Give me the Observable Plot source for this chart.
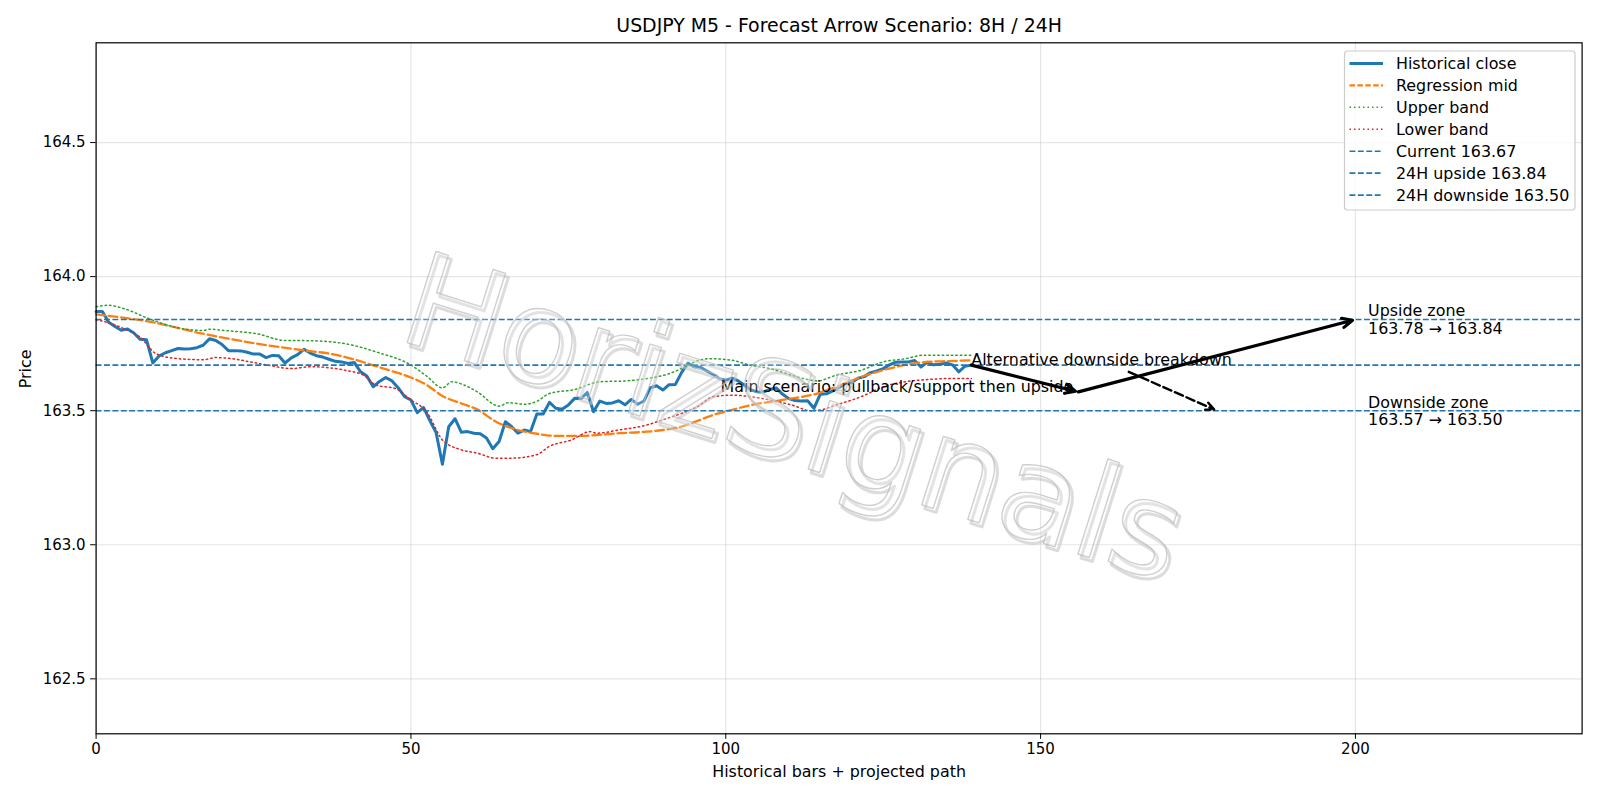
<!DOCTYPE html>
<html>
<head>
<meta charset="utf-8">
<script src="https://cdn.jsdelivr.net/npm/d3@7"></script>
<script src="https://cdn.jsdelivr.net/npm/@observablehq/plot@0.6"></script>
<style>
  html, body { margin: 0; padding: 0; background: #ffffff; }
  #chart { width: 1600px; height: 800px; }
</style>
</head>
<body>
<div id="chart"></div>
<script>
// USDJPY M5 closes, one value per bar (bars 0..139)
const closeValues = [
  163.870, 163.870, 163.830, 163.814, 163.800, 163.805, 163.790, 163.766, 163.765, 163.678,
  163.704, 163.716, 163.724, 163.732, 163.730, 163.731, 163.735, 163.744, 163.768, 163.762,
  163.747, 163.724, 163.724, 163.723, 163.718, 163.711, 163.711, 163.698, 163.706, 163.705,
  163.678, 163.697, 163.709, 163.729, 163.715, 163.705, 163.700, 163.692, 163.684, 163.682,
  163.676, 163.680, 163.645, 163.629, 163.589, 163.609, 163.624, 163.611, 163.585, 163.552,
  163.540, 163.493, 163.512, 163.463, 163.418, 163.300, 163.440, 163.470, 163.420, 163.422,
  163.416, 163.414, 163.398, 163.358, 163.385, 163.459, 163.440, 163.416, 163.428, 163.422,
  163.488, 163.488, 163.531, 163.509, 163.505, 163.521, 163.546, 163.545, 163.568, 163.496,
  163.536, 163.527, 163.529, 163.537, 163.522, 163.542, 163.524, 163.536, 163.585, 163.593,
  163.577, 163.597, 163.598, 163.643, 163.678, 163.664, 163.662, 163.648, 163.635, 163.619,
  163.614, 163.621, 163.611, 163.595, 163.577, 163.570, 163.570, 163.579, 163.585, 163.562,
  163.545, 163.538, 163.536, 163.537, 163.509, 163.561, 163.563, 163.574, 163.587, 163.601,
  163.605, 163.621, 163.627, 163.642, 163.648, 163.657, 163.671, 163.681, 163.682, 163.682,
  163.687, 163.663, 163.681, 163.671, 163.673, 163.678, 163.671, 163.645, 163.666, 163.670
];
const closeBars = closeValues.map((_, i) => i);

// Regression mid line (bar position, price)
const midBars = [0, 8, 17, 25.5, 34, 37, 40.5, 43.5, 46.5, 50, 52.5, 55, 58, 60.5, 63.5, 67, 70, 73, 77, 80,
  83, 86.5, 90, 93, 95.5, 98, 101, 104, 109, 114.5, 117.5, 121.5, 125, 129, 132, 135.5, 139];
const midValues = [163.859, 163.834, 163.787, 163.750, 163.722, 163.713, 163.694, 163.673, 163.651, 163.624,
  163.596, 163.555, 163.527, 163.505, 163.459, 163.428, 163.414, 163.406, 163.406, 163.410,
  163.416, 163.420, 163.428, 163.441, 163.462, 163.484, 163.503, 163.521, 163.540, 163.564,
  163.589, 163.626, 163.651, 163.673, 163.682, 163.685, 163.688];

// Upper band
const upperBars = [0, 2, 4.5, 8.5, 13, 17, 18, 20.5, 25.5, 30, 34, 39.5, 44.5, 50, 52.5, 55, 56.5, 58.5, 60.5, 64,
  65.5, 68, 70, 72, 76, 80, 84, 87.5, 91, 93.5, 95.5, 97.5, 101, 104, 107, 110.5, 113.5, 114.5, 117.5, 121.5,
  125, 128.5, 131.5, 135.5, 139];
const upperValues = [163.888, 163.893, 163.880, 163.842, 163.809, 163.799, 163.804, 163.799, 163.787, 163.762,
  163.761, 163.750, 163.719, 163.670, 163.629, 163.585, 163.608, 163.595, 163.571, 163.517,
  163.530, 163.524, 163.535, 163.564, 163.579, 163.608, 163.611, 163.620, 163.638, 163.663,
  163.686, 163.694, 163.688, 163.669, 163.657, 163.632, 163.614, 163.611, 163.632, 163.651,
  163.682, 163.694, 163.707, 163.707, 163.707];

// Lower band
const lowerBars = [0, 2.5, 4.5, 7, 9.5, 13, 17, 19, 21.5, 24.5, 27.5, 31, 34, 39.5, 42.5, 44.5, 47.5, 50, 52.5, 55,
  58, 60.5, 63.5, 66, 70, 72, 75.5, 78.5, 79.5, 83, 87.5, 90, 93, 95.5, 98, 101, 104, 107, 110.5, 113.5,
  115.5, 117.5, 121.5, 125, 128.5, 132, 135.5, 139];
const lowerValues = [163.839, 163.824, 163.805, 163.774, 163.713, 163.694, 163.690, 163.698, 163.694, 163.682,
  163.669, 163.657, 163.664, 163.651, 163.632, 163.595, 163.583, 163.540, 163.496, 163.391,
  163.354, 163.342, 163.323, 163.323, 163.336, 163.367, 163.391, 163.422, 163.416, 163.428,
  163.447, 163.466, 163.490, 163.515, 163.552, 163.558, 163.552, 163.540, 163.521, 163.500,
  163.505, 163.521, 163.552, 163.589, 163.608, 163.616, 163.620, 163.620];

// Reference levels
const levelNames = ["Current", "24H upside", "24H downside"];
const levelValues = [163.67, 163.84, 163.50];

// Projected main path: pullback to support, then upside target
const mainPathBars = [139, 156, 200];
const mainPathValues = [163.67, 163.57, 163.84];

// Alternative breakdown arrow (start point sits at the edge of its label)
const altBars = [164, 178];
const altValues = [163.645, 163.50];

// Zone labels
const zoneNames = ["Upside zone", "Downside zone"];
const zoneFrom = [163.78, 163.57];
const zoneTo = [163.84, 163.50];
const zoneBar = 202;

// Axis ticks
const xTicks = [0, 50, 100, 150, 200];
const yTicks = [162.5, 163.0, 163.5, 164.0, 164.5];

const titleText = "USDJPY M5 - Forecast Arrow Scenario: 8H / 24H";
const xLabel = "Historical bars + projected path";
const yLabel = "Price";
const watermarkText = "HorizSignals";

const C = { blue: "#1f77b4", orange: "#ff7f0e", green: "#2ca02c", red: "#d62728" };
const FONT = "'DejaVu Sans', 'Liberation Sans', sans-serif";

const mainSegments = mainPathBars.slice(1).map((b, k) => ({
  x1: mainPathBars[k], y1: mainPathValues[k], x2: b, y2: mainPathValues[k + 1]
}));
const altSegment = [{ x1: altBars[0], y1: altValues[0], x2: altBars[1], y2: altValues[1] }];
const zoneLabels = zoneNames.map((n, k) => ({
  y: zoneTo[k], text: `${n}\n${zoneFrom[k].toFixed(2)} \u2192 ${zoneTo[k].toFixed(2)}`
}));

const chart = Plot.plot({
  width: 1600,
  height: 800,
  marginLeft: 95.6,
  marginRight: 18.4,
  marginTop: 42.3,
  marginBottom: 66.7,
  x: { domain: [0, 236] },
  y: { domain: [162.295, 164.872] },
  style: { fontFamily: FONT, fontSize: "15px", background: "#ffffff", color: "#000000", overflow: "visible" },
  marks: [
    Plot.gridX(xTicks, { stroke: "#b0b0b0", strokeOpacity: 0.32, strokeWidth: 1.2 }),
    Plot.gridY(yTicks, { stroke: "#b0b0b0", strokeOpacity: 0.32, strokeWidth: 1.2 }),

    Plot.line(closeValues, { x: closeBars, y: closeValues, stroke: C.blue, strokeWidth: 3, strokeLinejoin: "round" }),
    Plot.line(midValues, { x: midBars, y: midValues, stroke: C.orange, strokeWidth: 2.3, strokeDasharray: "8.8,3.8", curve: "monotone-x" }),
    Plot.line(upperValues, { x: upperBars, y: upperValues, stroke: C.green, strokeWidth: 1.5, strokeDasharray: "1.5,3", curve: "monotone-x" }),
    Plot.line(lowerValues, { x: lowerBars, y: lowerValues, stroke: C.red, strokeWidth: 1.5, strokeDasharray: "1.5,3", curve: "monotone-x" }),

    Plot.ruleY(levelValues, { stroke: C.blue, strokeWidth: 1.6, strokeDasharray: "5.9,2.5" }),

    Plot.arrow(mainSegments, { x1: "x1", y1: "y1", x2: "x2", y2: "y2", stroke: "#000", strokeWidth: 3.2, headLength: 5.2, headAngle: 50, insetEnd: 3 }),
    Plot.arrow(altSegment, { x1: "x1", y1: "y1", x2: "x2", y2: "y2", stroke: "#000", strokeWidth: 2.4, strokeDasharray: "8.8,3.8", headLength: 5.6, headAngle: 50, insetEnd: 3 }),

    Plot.text(["Main scenario: pullback/support then upside"], {
      x: mainPathBars[1], y: mainPathValues[1], text: d => d, textAnchor: "end", lineAnchor: "bottom", dx: -5, fontSize: 15.9, fill: "#000"
    }),
    Plot.text(["Alternative downside breakdown"], {
      x: mainPathBars[0], y: mainPathValues[0], text: d => d, textAnchor: "start", lineAnchor: "bottom", fontSize: 15.9, fill: "#000"
    }),
    Plot.text(zoneLabels, {
      x: zoneBar, y: "y", text: "text", textAnchor: "start", lineAnchor: "middle", lineHeight: 1.1, fontSize: 15.9, fill: "#000"
    }),

    Plot.frame({ stroke: "#000", strokeWidth: 1.2 }),
    Plot.axisX({ ticks: xTicks, tickSize: 5.5, tickPadding: 4, fontSize: 15, label: null }),
    Plot.axisY({ ticks: yTicks, tickSize: 5.5, tickPadding: 5, fontSize: 15, tickFormat: d3.format(".1f"), label: null }),

    Plot.text([titleText], { frameAnchor: "top", dy: -16.8, text: d => d, lineAnchor: "middle", fontSize: 18.9, fill: "#000" }),
    Plot.text([xLabel], { frameAnchor: "bottom", dy: 38, text: d => d, lineAnchor: "middle", fontSize: 15.9, fill: "#000" }),
    Plot.text([yLabel], { frameAnchor: "left", dx: -70, text: d => d, rotate: -90, lineAnchor: "middle", fontSize: 15.9, fill: "#000" }),

    // watermark: soft offset shadow, then outlined translucent letters
    Plot.text([watermarkText], {
      frameAnchor: "middle", dx: -43, dy: 36, rotate: 17.5, text: d => d, fontSize: 131, lineAnchor: "middle",
      fill: "none", stroke: "#c4c4c4", strokeOpacity: 0.6, strokeWidth: 3
    }),
    Plot.text([watermarkText], {
      frameAnchor: "middle", dx: -46, dy: 32, rotate: 17.5, text: d => d, fontSize: 131, lineAnchor: "middle",
      fill: "#ffffff", fillOpacity: 0.22, stroke: "#b4b4b4", strokeOpacity: 0.7, strokeWidth: 1.4
    })
  ]
});

document.getElementById("chart").appendChild(chart);

// Legend in the upper right corner of the axes
const legendEntries = [
  { label: "Historical close", stroke: C.blue, width: 3, dash: null },
  { label: "Regression mid", stroke: C.orange, width: 2.3, dash: "5.5,2.4" },
  { label: "Upper band", stroke: C.green, width: 1.5, dash: "1.5,3" },
  { label: "Lower band", stroke: C.red, width: 1.5, dash: "1.5,3" },
  ...levelNames.map((n, k) => ({ label: `${n} ${levelValues[k].toFixed(2)}`, stroke: C.blue, width: 1.6, dash: "5.9,2.5" }))
];
const svg = d3.select(chart);
const lg = svg.append("g").attr("font-family", FONT).attr("font-size", 15.9).attr("text-anchor", "start");
lg.append("rect")
  .attr("x", 1344.5).attr("y", 51).attr("width", 230.5).attr("height", 159)
  .attr("rx", 3).attr("fill", "#ffffff").attr("fill-opacity", 0.8)
  .attr("stroke", "#cccccc").attr("stroke-width", 1.2);
legendEntries.forEach((e, k) => {
  const y = 63.4 + k * 21.95;
  lg.append("line")
    .attr("x1", 1349.5).attr("x2", 1383).attr("y1", y).attr("y2", y)
    .attr("stroke", e.stroke).attr("stroke-width", e.width)
    .attr("stroke-dasharray", e.dash);
  lg.append("text")
    .attr("x", 1396).attr("y", y).attr("dy", "0.36em").attr("fill", "#000")
    .attr("text-anchor", "start")
    .text(e.label);
});
</script>
</body>
</html>
